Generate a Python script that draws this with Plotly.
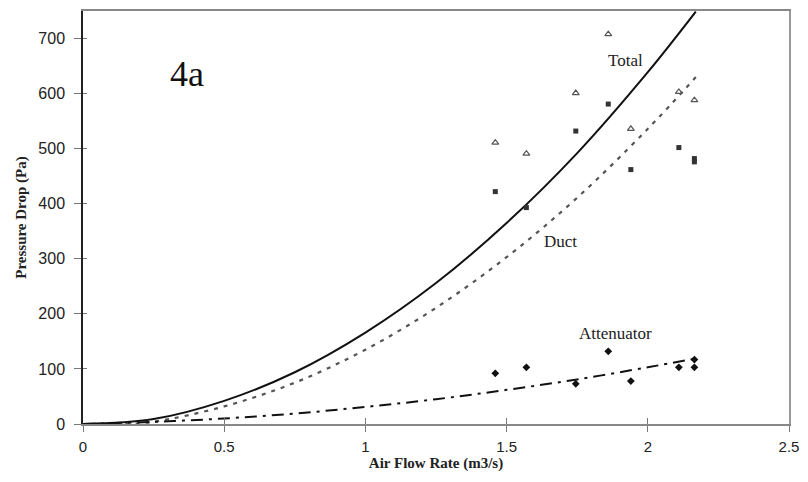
import plotly.graph_objects as go

# Measured points (air flow rate in m3/s, pressure drop in Pa)
flow_meas = [1.46, 1.57, 1.745, 1.86, 1.94, 2.11, 2.165]
total_meas = [511, 491, 601, 708, 536, 603, 588]
flow_duct = [1.46, 1.57, 1.745, 1.86, 1.94, 2.11, 2.165, 2.165]
duct_meas = [422, 393, 532, 581, 462, 502, 476, 482]
flow_att = [1.46, 1.57, 1.745, 1.86, 1.94, 2.11, 2.165, 2.165]
att_meas = [92, 103, 73, 132, 78, 103, 117, 103]

# Predicted curves
flow_curve = [0.0, 0.25, 0.5, 0.75, 1.0, 1.25, 1.5, 1.75, 2.0, 2.17]
total_curve = [0, 9, 42, 94, 166, 256, 365, 492, 639, 749]
flow_duct_curve = [0.15, 0.25, 0.5, 0.75, 1.0, 1.25, 1.5, 1.75, 2.0, 2.17]
duct_curve = [0, 4, 32, 75, 135, 211, 303, 411, 536, 630]
att_curve = [0, 4, 10, 19, 31, 45, 62, 81, 103, 119]

x_ticks = [0, 0.5, 1, 1.5, 2, 2.5]
x_tick_text = ["0", "0.5", "1", "1.5", "2", "2.5"]
y_ticks = [0, 100, 200, 300, 400, 500, 600, 700]

serif = "Liberation Serif, Times New Roman, serif"
sans = "Liberation Sans, Arial, sans-serif"

fig = go.Figure()

fig.add_trace(go.Scatter(x=flow_curve, y=total_curve, mode="lines",
                         line=dict(color="#111", width=2, shape="spline"),
                         showlegend=False))
fig.add_trace(go.Scatter(x=flow_duct_curve, y=duct_curve, mode="lines",
                         line=dict(color="#555", width=2.2, dash="4px,6px", shape="spline"),
                         showlegend=False))
fig.add_trace(go.Scatter(x=flow_curve, y=att_curve, mode="lines",
                         line=dict(color="#111", width=2, dash="12px,6px,3px,6px", shape="spline"),
                         showlegend=False))

fig.add_trace(go.Scatter(x=flow_meas, y=total_meas, mode="markers",
                         marker=dict(symbol="triangle-up-open", size=6, color="#555",
                                     line=dict(width=1.2, color="#555")),
                         showlegend=False))
fig.add_trace(go.Scatter(x=flow_duct, y=duct_meas, mode="markers",
                         marker=dict(symbol="square", size=5, color="#333"),
                         showlegend=False))
fig.add_trace(go.Scatter(x=flow_att, y=att_meas, mode="markers",
                         marker=dict(symbol="diamond", size=6, color="#111"),
                         showlegend=False))

# empty trace so the overlay axes (inner tick halves) are drawn
fig.add_trace(go.Scatter(x=[], y=[], xaxis="x2", yaxis="y2", showlegend=False))

labels = [
    (1.92, 660, "Total"),
    (1.69, 332, "Duct"),
    (1.885, 165, "Attenuator"),
]
for lx, ly, txt in labels:
    fig.add_annotation(x=lx, y=ly, text=txt, showarrow=False,
                       font=dict(family=serif, size=17, color="#222"))

fig.add_annotation(x=0.37, y=635, text="4a", showarrow=False,
                   font=dict(family=serif, size=36, color="#111"))

fig.update_layout(
    width=808, height=482,
    margin=dict(l=83, r=14, t=9, b=58),
    paper_bgcolor="white", plot_bgcolor="white",
    xaxis=dict(range=[0, 2.5], tickvals=x_ticks, ticktext=x_tick_text,
               ticks="outside", ticklen=6, tickcolor="#777", tickwidth=1,
               ticklabelstandoff=2,
               showgrid=False, zeroline=False,
               showline=True, linecolor="#888", linewidth=1.5, mirror=True,
               tickfont=dict(family=sans, size=15, color="#222"),
               title=dict(text="<b>Air Flow Rate (m3/s)</b>", standoff=4,
                          font=dict(family=serif, size=15, color="#222"))),
    yaxis=dict(range=[0, 750], tickvals=y_ticks,
               ticks="outside", ticklen=7, tickcolor="#777", tickwidth=1,
               ticklabelstandoff=6,
               showgrid=False, zeroline=False,
               showline=True, linecolor="#999", linewidth=1.5, mirror=True,
               tickfont=dict(family=sans, size=16, color="#222"),
               title=dict(text="<b>Pressure Drop (Pa)</b>", standoff=8,
                          font=dict(family=serif, size=15, color="#222"))),
    xaxis2=dict(range=[0, 2.5], tickvals=x_ticks, overlaying="x", anchor="y2",
                side="bottom", ticks="inside", ticklen=6, tickcolor="#777",
                showticklabels=False, showgrid=False, zeroline=False, showline=False),
    yaxis2=dict(range=[0, 750], tickvals=y_ticks, overlaying="y", anchor="x2",
                side="left", ticks="inside", ticklen=4, tickcolor="#777",
                showticklabels=False, showgrid=False, zeroline=False,
                showline=True, linecolor="#222", linewidth=1.5),
)

fig.write_html("out.html")
